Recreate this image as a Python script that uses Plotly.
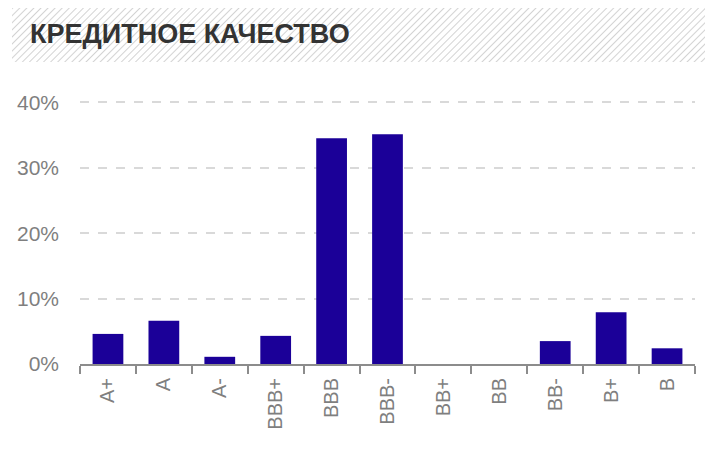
import base64
import plotly.graph_objects as go

ratings = ["A+", "A", "A-", "BBB+", "BBB", "BBB-", "BB+", "BB", "BB-", "B+", "B"]
shares = [4.6, 6.6, 1.1, 4.3, 34.5, 35.1, 0, 0, 3.5, 7.9, 2.4]
y_ticks = [0, 10, 20, 30, 40]
y_labels = ["0%", "10%", "20%", "30%", "40%"]

# page body adds 8px around the figure, so the figure is 705x436
W, H = 705, 436
L, R, T, B = 72, 18, 93, 80
pw, ph = W - L - R, H - T - B

# hatched band behind the title
hatch_svg = (
    '<svg xmlns="http://www.w3.org/2000/svg" width="693" height="54">'
    '<defs><pattern id="h" width="5" height="5" patternUnits="userSpaceOnUse" '
    'patternTransform="rotate(45)"><line x1="0" y1="0" x2="0" y2="5" '
    'stroke="#c8c8c8" stroke-width="1.6"/></pattern></defs>'
    '<rect width="693" height="54" fill="url(#h)"/></svg>'
)
hatch_src = "data:image/svg+xml;base64," + base64.b64encode(hatch_svg.encode()).decode()

fig = go.Figure(go.Bar(
    x=ratings, y=shares,
    marker=dict(color="#1B0098", line=dict(width=0)),
    width=0.55,
))

fig.update_layout(
    width=W, height=H,
    margin=dict(l=L, r=R, t=T, b=B),
    paper_bgcolor="white", plot_bgcolor="white",
    showlegend=False,
    font=dict(family="Liberation Sans, Arial, sans-serif", color="#7f7f7f", size=19),
    title=dict(
        text="<b>КРЕДИТНОЕ КАЧЕСТВО</b>",
        x=22 / W, xanchor="left", xref="container",
        y=1 - 26 / H, yanchor="middle", yref="container",
        font=dict(family="Liberation Sans, Arial, sans-serif", size=27, color="#333333"),
    ),
    images=[dict(
        source=hatch_src, xref="paper", yref="paper",
        x=(4 - L) / pw, y=(H - B) / ph,
        sizex=693 / pw, sizey=54 / ph,
        xanchor="left", yanchor="top", sizing="stretch", layer="below",
    )],
)

fig.update_xaxes(
    type="category", tickangle=-90, automargin=False,
    showline=True, linecolor="#8c8c8c", linewidth=2,
    ticks="outside", tickson="boundaries", ticklen=8, tickwidth=2, tickcolor="#8c8c8c",
    showgrid=False, ticklabelstandoff=4, tickfont=dict(size=20, color="#7f7f7f"),
)
fig.update_yaxes(
    range=[0, 40.2], tickvals=y_ticks, ticktext=y_labels, automargin=False,
    showgrid=True, gridcolor="#d9d9d9", griddash="dash", gridwidth=2,
    zeroline=False, showline=False, ticklabelstandoff=20,
    tickfont=dict(size=21, color="#7f7f7f"),
)

fig.write_html("out.html")
